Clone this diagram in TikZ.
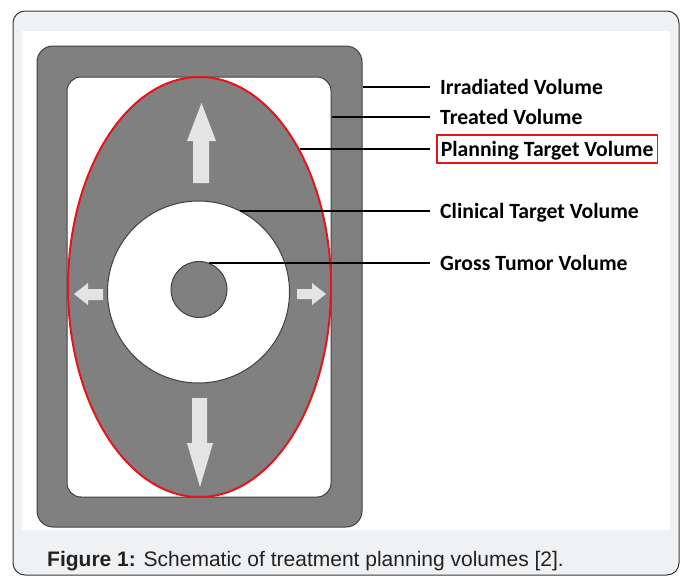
\documentclass[tikz,border=0pt]{standalone}
\usepackage{fontspec}
\setmainfont{Liberation Sans}
\newfontfamily\labelfont{Carlito}
\usepackage{tikz}
\usetikzlibrary{shapes.geometric, positioning}
\definecolor{framebg}{HTML}{F0F1F3}
\definecolor{framedge}{HTML}{3A3A3A}
\definecolor{volgray}{HTML}{808080}
\definecolor{edgegray}{HTML}{404040}
\definecolor{ptvred}{HTML}{E8141C}
\definecolor{arrowfill}{HTML}{E4E4E4}
\definecolor{captext}{HTML}{222222}

\begin{document}
\begin{tikzpicture}[
    x=1pt, y=-1pt,
    every node/.style={inner sep=0pt},
    volbox/.style={rectangle, draw=edgegray, line width=1pt},
    volround/.style={circle, draw=edgegray, line width=1pt},
    blockarrow/.style={fill=arrowfill, draw=none},
    leader/.style={black, line width=1.6pt},
    vlabel/.style={anchor=west, font=\labelfont\bfseries\fontsize{21.7}{26}\selectfont, text height=18pt, text depth=4pt, inner xsep=4pt, inner ysep=3pt}
]
\useasboundingbox (0,0) rectangle (683,576);

% Frame and caption band
\node[rectangle, draw=framedge, fill=framebg, line width=1pt, rounded corners=12pt, minimum width=666pt, minimum height=564pt] (frame) at (346,293) {};
\node[rectangle, fill=white, minimum width=648pt, minimum height=499pt] (panel) at (346,280.5) {};

% Volumes
\node[volbox, fill=volgray, rounded corners=16pt, minimum width=325pt, minimum height=481pt] (irr) at (199.5,286.5) {};
\node[volbox, fill=white, rounded corners=14pt, minimum width=264pt, minimum height=420pt] (trt) at (199,287) {};
\node[ellipse, draw=ptvred, fill=volgray, line width=2pt, minimum width=263pt, minimum height=420pt] (ptv) at (199.5,287) {};
\node[volround, fill=white, minimum size=182pt] (ctv) at (198.5,292) {};
\node[volround, fill=volgray, minimum size=56pt] (gtv) at (199,289.5) {};

% Margin arrows
\fill[blockarrow] (193,183) -- (193,141) -- (187,141) -- (201.5,103) -- (216,141) -- (209,141) -- (209,183) -- cycle;
\fill[blockarrow] (192,398) -- (192,443) -- (187,443) -- (200,487) -- (213,443) -- (207,443) -- (207,398) -- cycle;
\fill[blockarrow] (103,289) -- (88,289) -- (88,283) -- (74,294) -- (88,305) -- (88,300) -- (103,300) -- cycle;
\fill[blockarrow] (297,289) -- (312,289) -- (312,283) -- (326,294) -- (312,305) -- (312,299) -- (297,299) -- cycle;

% Labels
\node[vlabel] (lirr) at (436,87) {Irradiated Volume};
\node[vlabel] (ltrt) at (436,117) {Treated Volume};
\node[vlabel, draw=ptvred, line width=1.6pt] (lptv) at (436,149) {Planning Target Volume};
\node[vlabel] (lctv) at (436,211) {Clinical Target Volume};
\node[vlabel] (lgtv) at (436,263) {Gross Tumor Volume};

% Leader lines
\draw[leader] (irr.east |- lirr.west) -- ([xshift=-6pt]lirr.west);
\draw[leader] (trt.east |- ltrt.west) -- ([xshift=-6pt]ltrt.west);
\draw[leader] (ptv.54 |- lptv.west) -- ([xshift=-6pt]lptv.west);
\draw[leader] (ctv.63 |- lctv.west) -- ([xshift=-6pt]lctv.west);
\draw[leader] (gtv.70 |- lgtv.west) -- ([xshift=-6pt]lgtv.west);

% Caption
\node[anchor=base west, text=captext, font=\fontsize{21}{25}\selectfont] (cap) at (47,566) {\textbf{Figure 1:} Schematic of treatment planning volumes [2].};
\end{tikzpicture}
\end{document}
